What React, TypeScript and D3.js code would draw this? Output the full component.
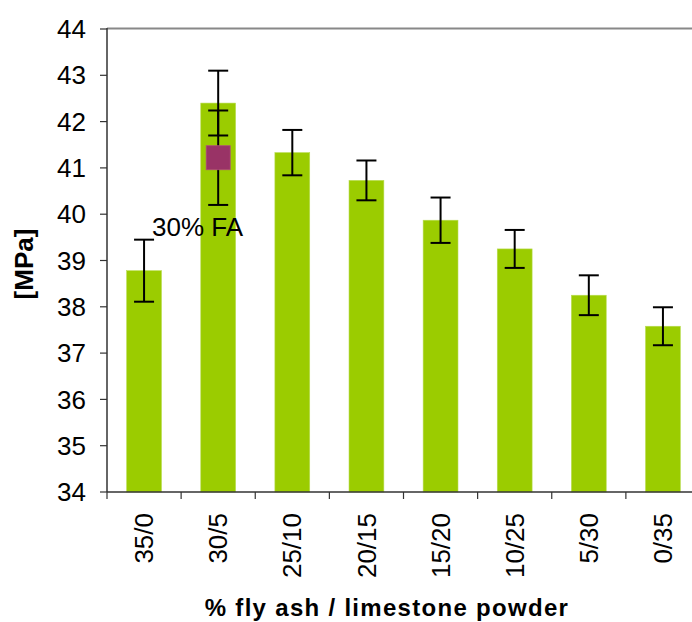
import React from "react";
import * as d3 from "d3";

const categories = ["35/0", "30/5", "25/10", "20/15", "15/20", "10/25", "5/30", "0/35"];
const values = [38.78, 42.4, 41.33, 40.73, 39.87, 39.25, 38.25, 37.58];
const errors = [0.67, 0.7, 0.49, 0.43, 0.49, 0.41, 0.43, 0.41];
const markerCategory = "30/5";
const markerValue = 41.22;
const markerError = 1.02;
const markerLabel = "30% FA";
const yTicks = [34, 35, 36, 37, 38, 39, 40, 41, 42, 43, 44];
const yTitle = "[MPa]";
const xTitle = "% fly ash / limestone powder";

const W = 692;
const H = 622;
const left = 107;
const right = 700;
const top = 29;
const bottom = 492;
const font = "'Liberation Sans', Arial, sans-serif";

export default function App() {
  const x = d3.scaleBand<string>().domain(categories).range([left, right]).paddingInner(0.53).paddingOuter(0.265);
  const y = d3.scaleLinear().domain([34, 44]).range([bottom, top]);
  const step = x.step();
  const bw = x.bandwidth();
  const cap = 10;
  const cx = (c: string) => (x(c) as number) + bw / 2;

  return (
    <svg width={W} height={H} style={{ position: "absolute", left: 0, top: 0, background: "#fff" }} fontFamily={font}>
      {/* top border */}
      <line x1={left} x2={W} y1={top - 0.5} y2={top - 0.5} stroke="#888" strokeWidth={2} />
      {/* bars */}
      {categories.map((c, i) => (
        <rect key={c} x={x(c)} y={y(values[i])} width={bw} height={bottom - y(values[i])} fill="#9BCC00" stroke="#B8DC50" strokeWidth={0.6} />
      ))}
      {/* error bars */}
      {categories.map((c, i) => {
        const xc = cx(c);
        const y1 = y(values[i] + errors[i]);
        const y2 = y(values[i] - errors[i]);
        return (
          <g key={"e" + c} stroke="#000" strokeWidth={2}>
            <line x1={xc} x2={xc} y1={y1} y2={y2} />
            <line x1={xc - cap} x2={xc + cap} y1={y1} y2={y1} />
            <line x1={xc - cap} x2={xc + cap} y1={y2} y2={y2} />
          </g>
        );
      })}
      {/* marker series */}
      {(() => {
        const xc = cx(markerCategory);
        const y1 = y(markerValue + markerError);
        const y2 = y(markerValue - markerError);
        const ym = y(markerValue);
        return (
          <g>
            <g stroke="#000" strokeWidth={2}>
              <line x1={xc} x2={xc} y1={y1} y2={y2} />
              <line x1={xc - cap} x2={xc + cap} y1={y1} y2={y1} />
              <line x1={xc - cap} x2={xc + cap} y1={y2} y2={y2} />
            </g>
            <rect x={xc - 12} y={ym - 12} width={24} height={24} fill="#993366" stroke="#B04A7C" strokeWidth={0.8} />
          </g>
        );
      })()}
      <text x={152} y={235.5} fontSize={26} fill="#000">{markerLabel}</text>
      {/* y axis */}
      <line x1={left} x2={left} y1={top - 1} y2={bottom} stroke="#333" strokeWidth={1.5} />
      {yTicks.map((t) => (
        <g key={t}>
          <line x1={left - 7} x2={left} y1={y(t)} y2={y(t)} stroke="#333" strokeWidth={1.2} />
          <text x={86} y={y(t)} dy="0.35em" textAnchor="end" fontSize={26} fill="#000">{t}</text>
        </g>
      ))}
      {/* x axis */}
      <line x1={left} x2={W} y1={bottom} y2={bottom} stroke="#333" strokeWidth={1.5} />
      {d3.range(categories.length + 1).map((i) => (
        <line key={"t" + i} x1={left + i * step} x2={left + i * step} y1={bottom} y2={bottom + 7} stroke="#333" strokeWidth={1.2} />
      ))}
      {categories.map((c) => (
        <text key={"l" + c} transform={`translate(${cx(c)},${513}) rotate(-90)`} dy="0.35em" textAnchor="end" fontSize={26} fill="#000">{c}</text>
      ))}
      <text transform={`translate(24,264) rotate(-90)`} dy="0.35em" textAnchor="middle" fontSize={26} fontWeight="bold" fill="#000">{yTitle}</text>
      <text x={387} y={615.5} textAnchor="middle" fontSize={24} fontWeight="bold" letterSpacing={1.3} fill="#000">{xTitle}</text>
    </svg>
  );
}
